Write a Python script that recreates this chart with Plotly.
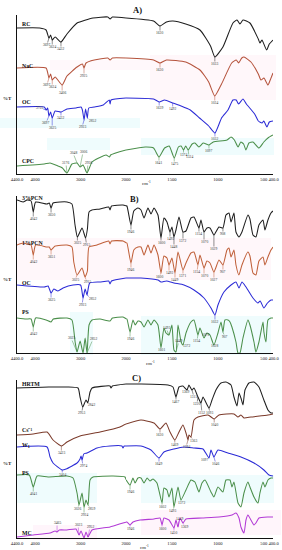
import numpy as np
import plotly.graph_objects as go

FONT = "Liberation Serif"
WPX, HPX = 282, 550

# ---------------- Panel A ----------------
RC_w = [4400, 3900, 3760, 3697, 3660, 3624, 3560, 3432, 3300, 3078, 2726, 2400, 2350, 2300, 2000, 1700, 1630, 1560, 1489, 1350, 1195, 1080, 1033, 945, 836, 792, 760, 727, 651, 560, 542, 520, 470, 440, 400]
RC_h = [146, 146, 144, 136, 139, 134, 137, 132, 140, 151, 156, 157, 155, 157, 156, 153, 148, 152, 153, 150, 144, 128, 117, 127, 151, 154, 150, 154, 151, 135, 131, 134, 124, 130, 134]
RC_lab = [(3697, "3697", -2, 7), (3624, "3624", 0, 7), (3432, "3432", 0, 7), (1630, "1630"), (1033, "1033")]

NaC_w = [4400, 3760, 3697, 3660, 3624, 3560, 3406, 3300, 3078, 2960, 2925, 2880, 2700, 2400, 2350, 2300, 2000, 1700, 1630, 1560, 1350, 1195, 1100, 1034, 960, 850, 800, 775, 740, 716, 640, 560, 531, 499, 455, 430, 400]
NaC_h = [106, 106, 96, 100, 94, 97, 89, 98, 107, 110, 106, 111, 114, 116, 114, 116, 116, 114, 111, 114, 112, 104, 92, 78, 90, 111, 114, 111, 116, 117, 112, 100, 94, 96, 89, 94, 101]
NaC_lab = [(3697, "3697", -2, 7), (3624, "3624", 0, 7), (3406, "3406", 0, 8), (2925, "2925", 0, 8), (1630, "1630"), (1034, "1034")]

OCA_w = [4400, 3800, 3755, 3725, 3697, 3660, 3625, 3560, 3432, 3300, 3100, 2990, 2960, 2923, 2890, 2852, 2820, 2700, 2500, 2370, 2350, 2330, 2000, 1700, 1639, 1580, 1492, 1400, 1300, 1200, 1100, 1032, 960, 890, 836, 800, 775, 727, 690, 600, 560, 520, 500, 466, 440, 400]
OCA_h = [67, 67, 64, 66, 58, 62, 56, 63, 62, 65, 66, 67, 64, 54, 65, 56, 66, 67, 69, 74, 70, 74, 76, 75, 72, 74, 71, 68, 64, 56, 48, 41, 56, 64, 74, 74, 70, 75, 70, 60, 53, 51, 53, 47, 52, 53]
OCA_lab = [(3755, "3755", -7, -2), (3697, "3697", -3, 7), (3625, "3625", 0, 10), (3432, "3432", 0, 6), (2923, "2923", -2, 7), (2852, "2852", 5, 3), (1639, "1639", 0, 6), (1492, "1492", 0, 6), (1032, "1032", 0, 6)]

CPC_w = [4400, 3800, 3672, 3500, 3400, 3300, 3190, 3078, 3012, 2946, 2858, 2748, 2600, 2440, 2360, 2340, 2000, 1790, 1700, 1641, 1580, 1530, 1475, 1430, 1400, 1374, 1350, 1324, 1280, 1250, 1206, 1160, 1097, 1050, 900, 857, 820, 780, 750, 720, 695, 662, 618, 553, 500, 455, 400]
CPC_h = [8, 10, 11, 8, 6, 1, 10, 11, 7, 9, 1, 12, 16, 19, 17, 19, 24, 27, 26, 17, 26, 28, 16, 27, 28, 24, 28, 24, 30, 31, 27, 31, 29, 32, 34, 37, 34, 27, 32, 30, 24, 31, 32, 26, 32, 36, 39]
CPC_lab = [(3300, "3176", -1, -10), (3078, "3048", -4, -10), (3012, "3006", 3, -15), (2858, "2936", 1, -10), (1641, "1641", 0, 6), (1475, "1475", 0, 6), (1374, "1374", 0, 5), (1324, "1324", 1, 7), (1097, "1097", 0, 6)]

# ---------------- Panel B ----------------
P3_w = [4400, 4266, 4178, 4090, 4042, 3990, 3740, 3690, 3650, 3606, 3450, 3300, 3190, 3122, 3070, 2968, 2890, 2850, 2814, 2748, 2572, 2380, 2352, 2320, 2066, 1990, 1946, 1915, 1870, 1837, 1804, 1761, 1728, 1695, 1652, 1619, 1587, 1554, 1521, 1500, 1478, 1456, 1423, 1380, 1347, 1293, 1260, 1206, 1184, 1151, 1119, 1086, 1043, 988, 945, 912, 879, 857, 825, 803, 771, 738, 673, 651, 618, 586, 553, 509, 488, 455, 422, 400]
P3_h = [153, 151, 153, 152, 141, 151, 149, 150, 145, 150, 151, 151, 149, 128, 116, 125, 115, 124, 141, 143, 144, 146, 143, 147, 148, 147, 128, 142, 145, 143, 135, 145, 139, 145, 138, 115, 135, 131, 121, 126, 116, 123, 136, 121, 122, 135, 136, 125, 133, 121, 125, 125, 118, 126, 125, 138, 140, 131, 140, 121, 116, 121, 138, 134, 118, 116, 128, 133, 123, 133, 140, 142]
P3_lab = [(4042, "4042"), (3650, "3650"), (3070, "3025", 0, 6), (2890, "2915", 1, 7), (1946, "1946"), (1619, "1600", 0, 5), (1521, "1492", 0, 7), (1478, "1448", 0, 10), (1380, "1372", 0, 9), (1206, "1154", 0, 6), (1151, "1070", 0, 10), (1043, "1029", 0, 14), (945, "908", 0, 6)]

P1_w = [4400, 4266, 4178, 4090, 4042, 3990, 3740, 3690, 3650, 3560, 3300, 3190, 3150, 3078, 2968, 2902, 2850, 2814, 2640, 2380, 2352, 2320, 2066, 1990, 1946, 1915, 1870, 1837, 1804, 1761, 1728, 1695, 1652, 1619, 1587, 1554, 1532, 1500, 1467, 1434, 1380, 1347, 1293, 1260, 1217, 1195, 1151, 1119, 1086, 1043, 988, 945, 901, 879, 857, 825, 803, 771, 738, 673, 651, 618, 586, 553, 509, 488, 455, 422, 400]
P1_h = [108, 110, 109, 108, 98, 108, 106, 106, 103, 107, 108, 106, 91, 78, 85, 76, 82, 106, 108, 112, 109, 112, 112, 110, 90, 103, 106, 106, 98, 108, 100, 108, 98, 80, 97, 95, 88, 95, 80, 101, 83, 90, 100, 101, 88, 98, 85, 92, 90, 81, 93, 88, 103, 105, 96, 103, 88, 78, 88, 101, 97, 80, 78, 92, 96, 88, 96, 103, 106]
P1_lab = [(4042, "4042"), (3650, "3651"), (3078, "3025", -2, 5), (2902, "2915", 2, 5), (1946, "1946"), (1619, "1600", -2, 4), (1532, "1492", 0, 8), (1467, "1449", 0, 7), (1380, "1371", 0, 6), (1217, "1154", -1, 7), (1151, "1070", 0, 8), (1043, "1027", 0, 8), (945, "907", 0, 7)]

OCB_w = [4400, 3800, 3716, 3650, 3590, 3500, 3386, 3166, 3000, 2946, 2900, 2858, 2800, 2572, 2380, 2352, 2320, 2000, 1837, 1652, 1619, 1560, 1478, 1369, 1260, 1151, 1075, 1032, 999, 934, 857, 803, 770, 738, 694, 618, 564, 540, 499, 460, 422, 400]
OCB_h = [68, 66, 67, 60, 64, 62, 65, 68, 68, 55, 64, 58, 70, 71, 72, 69, 72, 75, 75, 73, 71, 72, 70, 68, 63, 55, 45, 38, 48, 61, 68, 71, 65, 71, 66, 55, 50, 52, 45, 50, 53, 53]
OCB_lab = [(3650, "3625"), (2946, "2923", -1, 7), (2858, "2852", 5, 4), (1032, "1032")]

PSB_w = [4400, 4200, 4090, 4042, 3990, 3760, 3650, 3600, 3300, 3190, 3120, 3078, 3010, 2946, 2900, 2858, 2814, 2748, 2572, 2352, 2300, 2066, 1990, 1956, 1924, 1900, 1870, 1837, 1804, 1761, 1728, 1695, 1652, 1619, 1587, 1565, 1532, 1500, 1478, 1456, 1434, 1400, 1380, 1347, 1293, 1260, 1217, 1195, 1151, 1119, 1086, 1043, 999, 966, 945, 923, 890, 868, 847, 803, 781, 760, 727, 673, 651, 607, 586, 553, 509, 499, 477, 455, 422, 400]
PSB_h = [35, 34, 34, 26, 35, 33, 31, 34, 35, 33, 11, 1, 12, 0, 15, 0, 28, 33, 34, 32, 35, 36, 34, 21, 33, 28, 32, 31, 26, 33, 28, 33, 28, 5, 25, 20, 18, 28, 3, 1, 28, 11, 8, 20, 31, 33, 18, 25, 15, 20, 18, 8, 20, 31, 21, 33, 33, 31, 26, 11, 0, 0, 15, 33, 28, 11, 1, 11, 31, 21, 11, 33, 35, 35]
PSB_lab = [(4042, "4042"), (3078, "3025", -6, -14), (2858, "2852", 6, -14), (1956, "1946"), (1619, "1601", 0, 2), (1532, "1493", -3, -7), (1456, "1449", 3, -11), (1380, "1372", 4, 1), (1217, "1154", -1, 6), (1151, "1070", 1, -3), (1043, "1028", 1, 1), (945, "907", 2, 5)]

# ---------------- Panel C ----------------
HR_w = [4400, 3700, 3298, 3056, 3012, 2953, 2880, 2842, 2792, 2748, 2352, 2330, 2300, 2000, 1837, 1543, 1489, 1456, 1423, 1380, 1336, 1315, 1282, 1260, 1217, 1184, 1162, 1097, 1064, 1021, 966, 912, 857, 825, 792, 770, 749, 727, 705, 662, 607, 553, 499, 455, 422, 400]
HR_h = [150, 151, 151, 150, 141, 131, 138, 135, 146, 150, 152, 150, 152, 154, 154, 153, 151, 141, 151, 152, 148, 153, 148, 150, 141, 135, 141, 130, 138, 148, 155, 156, 153, 141, 132, 145, 140, 133, 148, 155, 156, 151, 138, 128, 125, 125]
HR_lab = [(2953, "2953", -1, 6), (2842, "2842", 4, 2), (1456, "1467", 0, 5), (1336, "1369", -2, 2), (1282, "1311", 2, 7), (1217, "1220", -1, 7), (1184, "1152", 1, 10), (1097, "1093", 1, 5)]

Cs_w = [4400, 4046, 3738, 3606, 3423, 3300, 3012, 2572, 2132, 2000, 1837, 1695, 1630, 1565, 1521, 1469, 1423, 1380, 1347, 1325, 1315, 1293, 1260, 1217, 1108, 1040, 988, 825, 781, 749, 716, 640, 455, 400]
Cs_h = [103, 104, 106, 98, 92, 96, 102, 106, 111, 114, 118, 115, 109, 115, 106, 98, 106, 113, 105, 98, 103, 101, 118, 121, 123, 119, 123, 124, 121, 123, 120, 121, 123, 124]
Cs_lab = [(3423, "3423"), (1630, "1630", 0, 6), (1469, "1469", 0, 5), (1325, "1394", -2, 7), (1293, "1363", 3, 4), (1040, "1040", 0, 6)]

W1_w = [4400, 3738, 3672, 3606, 3404, 3320, 3078, 3012, 2990, 2968, 2930, 2858, 2638, 2352, 2090, 2066, 2040, 2000, 1837, 1728, 1641, 1587, 1478, 1369, 1260, 1162, 1097, 1075, 1043, 999, 890, 749, 607, 499, 444, 400]
W1_h = [91, 91, 81, 75, 68, 69, 75, 79, 82, 78, 84, 85, 90, 92, 92, 90, 92, 92, 92, 88, 80, 86, 89, 91, 90, 89, 80, 88, 81, 88, 85, 81, 75, 68, 63, 62]
W1_lab = [(3404, "3404", 0, 5), (2968, "2974", 1, 6), (1641, "1649", 0, 6), (1097, "1097", -4, 2), (1043, "1046", 2, 7)]

PSC_w = [4400, 4130, 4042, 3958, 3716, 3298, 3166, 3078, 3034, 2968, 2924, 2880, 2836, 2792, 2726, 2286, 2022, 1956, 1924, 1902, 1870, 1837, 1804, 1770, 1739, 1706, 1663, 1608, 1587, 1554, 1532, 1500, 1478, 1434, 1402, 1347, 1293, 1250, 1206, 1173, 1140, 1075, 1043, 999, 945, 912, 868, 847, 825, 781, 749, 716, 673, 651, 607, 564, 542, 509, 488, 455, 422, 400]
PSC_h = [63, 63, 51, 62, 61, 62, 60, 45, 33, 45, 31, 38, 33, 58, 61, 62, 61, 53, 60, 55, 60, 60, 55, 60, 57, 59, 55, 35, 50, 48, 41, 50, 31, 51, 38, 48, 58, 56, 46, 55, 58, 46, 41, 51, 46, 58, 58, 51, 56, 35, 31, 45, 56, 51, 41, 35, 45, 56, 51, 58, 60, 60]
PSC_lab = [(4042, "4041"), (3034, "3026", -2, 4), (2924, "2924", 0, 8), (2836, "2859", 3, 4), (1956, "1946"), (1608, "1602", 0, 4), (1478, "1493", -1, 4), (1402, "1372", 1, 3)]

MC_w = [4400, 4046, 3672, 3560, 3518, 3470, 3300, 3100, 3034, 2990, 2924, 2880, 2836, 2748, 2352, 2066, 1990, 1956, 1924, 1848, 1695, 1630, 1608, 1587, 1532, 1478, 1456, 1434, 1412, 1380, 1347, 1173, 988, 847, 803, 770, 749, 716, 694, 673, 607, 586, 553, 455, 400]
MC_h = [1, 3, 5, 7, 6, 8, 8, 9, 3, 7, 0, 6, 1, 8, 11, 15, 16, 13, 16, 18, 19, 20, 13, 20, 18, 10, 18, 11, 20, 15, 19, 20, 21, 23, 25, 20, 11, 5, 18, 23, 13, 15, 20, 21, 21]
MC_lab = [(3518, "3465", 0, -9), (3034, "3023", -1, -10), (2836, "2952", 2, -10), (1956, "1946", 0, 4), (1608, "1600", 0, 4), (1478, "1450", 0, 5), (1434, "1449", 1, -8), (1380, "1369", 2, 4)]

BLACK = "#1e1e1e"
RED = "#b5533c"
BLUE = "#2b2bd6"
GREEN = "#4b8f4b"
ORANGE = "#c0603a"
BROWN = "#7b3a2a"
MAGENTA = "#b23ad6"

SPECTRA = [
    dict(p=0, name="RC", nh=150, c=BLACK, w=RC_w, h=RC_h, lab=RC_lab),
    dict(p=0, name="NaC", nh=108, c=RED, w=NaC_w, h=NaC_h, lab=NaC_lab),
    dict(p=0, name="OC", nh=72, c=BLUE, w=OCA_w, h=OCA_h, lab=OCA_lab),
    dict(p=0, name="CPC", nh=13, c=GREEN, w=CPC_w, h=CPC_h, lab=CPC_lab),
    dict(p=1, name="3%PCN", nh=155, c=BLACK, w=P3_w, h=P3_h, lab=P3_lab),
    dict(p=1, name="1%PCN", nh=110, c=ORANGE, w=P1_w, h=P1_h, lab=P1_lab),
    dict(p=1, name="OC", nh=70, c=BLUE, w=OCB_w, h=OCB_h, lab=OCB_lab),
    dict(p=1, name="PS", nh=41, c=GREEN, w=PSB_w, h=PSB_h, lab=PSB_lab),
    dict(p=2, name="HRTM", nh=154, c=BLACK, w=HR_w, h=HR_h, lab=HR_lab),
    dict(p=2, name="Cs⁻¹", nh=108, c=BROWN, w=Cs_w, h=Cs_h, lab=Cs_lab),
    dict(p=2, name="W<sub>1</sub>", nh=93, c=BLUE, w=W1_w, h=W1_h, lab=W1_lab),
    dict(p=2, name="PS", nh=65, c=GREEN, w=PSC_w, h=PSC_h, lab=PSC_lab),
    dict(p=2, name="MC", nh=5, c=MAGENTA, w=MC_w, h=MC_h, lab=MC_lab),
]

LEFT_TICKS = [4400, 4000, 3000]
LEFT_TEXT = ["4400.0", "4000", "3000"]
RIGHT_TICKS = [2000, 1500, 1000, 500, 400]
RIGHT_TEXT = ["2000", "1500", "1000", "500", "\u00a0400.0"]

PANELS = [
    dict(axis=174, top=15, title="A)", tx=137, ty=10, cx=146, cy=183, pty=98),
    dict(axis=353, top=196, title="B)", tx=134, ty=199, cx=150, cy=363, pty=280),
    dict(axis=538, top=380, title="C)", tx=136, ty=378, cx=144, cy=547, pty=463),
]

def px(x):
    return x / WPX

def py(y):
    return 1 - y / HPX

XL_DOM = [px(17), px(126)]
XR_DOM = [px(126), px(273)]

def ids(p):
    n1, n2 = 2 * p + 1, 2 * p + 2
    xl = "x" if n1 == 1 else f"x{n1}"
    yl = "y" if n1 == 1 else f"y{n1}"
    return xl, yl, f"x{n2}", f"y{n2}"

fig = go.Figure()
annotations = []
layout = {}

for p, P in enumerate(PANELS):
    xl, yl, xr, yr = ids(p)
    ydom = [py(P["axis"]), py(P["top"])]
    yrange = [0, P["axis"] - P["top"]]
    kxl = "xaxis" if xl == "x" else "xaxis" + xl[1:]
    kyl = "yaxis" if yl == "y" else "yaxis" + yl[1:]
    kxr = "xaxis" + xr[1:]
    kyr = "yaxis" + yr[1:]
    tickfont = dict(family=FONT, size=4.6, color="#222")
    layout[kxl] = dict(domain=XL_DOM, range=[4400, 2000], anchor=yl, showline=True, linecolor="#111",
                       linewidth=1, showgrid=False, zeroline=False, tickvals=LEFT_TICKS, ticktext=LEFT_TEXT,
                       ticks="", tickangle=0, tickfont=tickfont, automargin=False)
    layout[kxr] = dict(domain=XR_DOM, range=[2000, 400], anchor=yr, showline=True, linecolor="#111",
                       linewidth=1, showgrid=False, zeroline=False, tickvals=RIGHT_TICKS, ticktext=RIGHT_TEXT,
                       ticks="", tickangle=0, tickfont=tickfont, automargin=False)
    layout[kyl] = dict(domain=ydom, range=yrange, anchor=xl, showline=True, linecolor="#111", linewidth=1,
                       showgrid=False, zeroline=False, showticklabels=False, ticks="", automargin=False)
    layout[kyr] = dict(domain=ydom, range=yrange, anchor=xr, matches=yl, visible=False, showgrid=False)
    annotations.append(dict(x=px(P["tx"]), y=py(P["ty"]), xref="paper", yref="paper", text="<b>" + P["title"] + "</b>",
                            xanchor="center", yanchor="middle",
                            showarrow=False, font=dict(family=FONT, size=8.5, color="#111")))
    annotations.append(dict(x=px(P["cx"]), y=py(P["cy"]), xref="paper", yref="paper", text="cm<sup>-1</sup>",
                            xanchor="center", yanchor="middle",
                            showarrow=False, font=dict(family=FONT, size=4.8, color="#222")))
    annotations.append(dict(x=px(7), y=py(P["pty"]), xref="paper", yref="paper", text="<b>%T</b>",
                            xanchor="center", yanchor="middle",
                            showarrow=False, font=dict(family=FONT, size=5, color="#222")))

for sp in SPECTRA:
    assert len(sp["w"]) == len(sp["h"]), sp["name"]
    xl, yl, xr, yr = ids(sp["p"])
    w = np.array(sp["w"], float)
    h = np.array(sp["h"], float)
    h2000 = float(np.interp(2000, w[::-1], h[::-1]))
    ml = w > 2000
    mr = w < 2000
    wl = np.append(w[ml], 2000.0)
    hl = np.append(h[ml], h2000)
    wr = np.insert(w[mr], 0, 2000.0)
    hr = np.insert(h[mr], 0, h2000)
    line = dict(color=sp["c"], width=1.05, shape="spline", smoothing=0.5)
    fig.add_trace(go.Scatter(x=wl, y=hl, xaxis=xl, yaxis=yl, mode="lines", line=line, hoverinfo="skip"))
    fig.add_trace(go.Scatter(x=wr, y=hr, xaxis=xr, yaxis=yr, mode="lines", line=line, hoverinfo="skip"))
    annotations.append(dict(x=4340, y=sp["nh"], xref=xl, yref=yl, text="<b>" + sp["name"] + "</b>",
                            xanchor="left", yanchor="middle", showarrow=False,
                            font=dict(family=FONT, size=5.8, color="#111")))
    for item in sp["lab"]:
        pos, txt = item[0], item[1]
        ax = item[2] if len(item) > 2 else 0
        ay = item[3] if len(item) > 3 else 7
        yv = float(np.interp(pos, w[::-1], h[::-1]))
        left = pos > 2000
        annotations.append(dict(x=pos, y=yv, xref=xl if left else xr, yref=yl if left else yr, text=txt,
                                showarrow=True, arrowhead=0, arrowwidth=0.5, arrowcolor=sp["c"], ax=ax, ay=ay,
                                standoff=0, borderpad=0,
                                font=dict(family=FONT, size=3.6, color="#333")))

# faint colour wash patches seen in the reference scan
PATCHES = [
    (150, 55, 276, 100, "rgba(255,120,170,0.06)"),
    (50, 60, 150, 70, "rgba(255,120,170,0.05)"),
    (0, 118, 140, 128, "rgba(120,230,240,0.12)"),
    (47, 138, 110, 150, "rgba(120,230,240,0.12)"),
    (141, 138, 274, 155, "rgba(120,230,240,0.12)"),
    (17, 238, 271, 280, "rgba(255,120,170,0.06)"),
    (141, 316, 271, 355, "rgba(120,230,240,0.12)"),
    (70, 312, 93, 355, "rgba(120,230,240,0.12)"),
    (17, 473, 97, 503, "rgba(120,230,240,0.12)"),
    (141, 475, 274, 503, "rgba(120,230,240,0.12)"),
    (33, 525, 97, 540, "rgba(255,120,200,0.07)"),
    (141, 510, 281, 535, "rgba(255,120,200,0.07)"),
]
shapes = [dict(type="rect", xref="paper", yref="paper", x0=px(a), x1=px(c), y0=py(d), y1=py(b),
               fillcolor=col, line=dict(width=0), layer="below") for a, b, c, d, col in PATCHES]

fig.update_layout(width=WPX, height=HPX, autosize=False, margin=dict(l=0, r=0, t=0, b=0, pad=0),
                  paper_bgcolor="white", plot_bgcolor="rgba(0,0,0,0)", showlegend=False,
                  annotations=annotations, shapes=shapes, **layout)

fig.write_html("out.html", config={"displayModeBar": False, "staticPlot": True},
               post_script="document.body.style.margin='0';document.body.style.overflow='hidden';")
